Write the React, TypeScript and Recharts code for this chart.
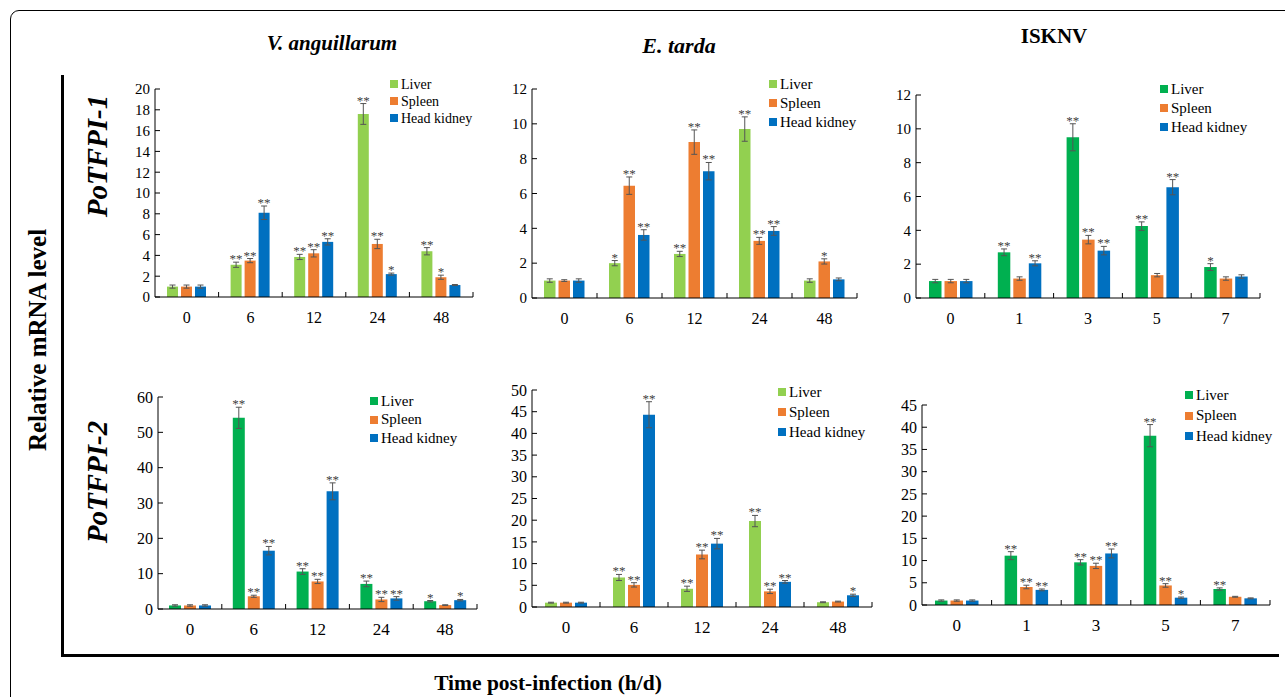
import React from "react";
import { BarChart, Bar, XAxis, YAxis, ErrorBar, LabelList } from "recharts";

const organs = ["Liver", "Spleen", "Head kidney"];
const hourCats = ["0", "6", "12", "24", "48"];
const dayCats = ["0", "1", "3", "5", "7"];

// PoTFPI-1, V. anguillarum
const va1Mean = [
  [1.0, 3.1, 3.85, 17.6, 4.4],
  [1.0, 3.5, 4.2, 5.1, 1.9],
  [1.0, 8.1, 5.3, 2.2, 1.15],
];
const va1Err = [
  [0.15, 0.25, 0.25, 1.0, 0.35],
  [0.15, 0.2, 0.35, 0.45, 0.2],
  [0.15, 0.65, 0.3, 0.1, 0.05],
];
const va1Sig = [
  ["", "**", "**", "**", "**"],
  ["", "**", "**", "**", "*"],
  ["", "**", "**", "*", ""],
];

// PoTFPI-1, E. tarda
const et1Mean = [
  [1.0, 2.0, 2.53, 9.7, 1.0],
  [1.0, 6.45, 8.95, 3.28, 2.1],
  [1.0, 3.62, 7.28, 3.85, 1.07],
];
const et1Err = [
  [0.1, 0.15, 0.15, 0.7, 0.1],
  [0.05, 0.5, 0.7, 0.2, 0.15],
  [0.1, 0.3, 0.5, 0.25, 0.08],
];
const et1Sig = [
  ["", "*", "**", "**", ""],
  ["", "**", "**", "**", "*"],
  ["", "**", "**", "**", ""],
];

// PoTFPI-1, ISKNV
const is1Mean = [
  [1.0, 2.7, 9.5, 4.25, 1.83],
  [1.0, 1.15, 3.45, 1.35, 1.15],
  [1.0, 2.05, 2.8, 6.55, 1.27],
];
const is1Err = [
  [0.1, 0.2, 0.8, 0.25, 0.2],
  [0.1, 0.1, 0.25, 0.1, 0.1],
  [0.1, 0.15, 0.25, 0.45, 0.1],
];
const is1Sig = [
  ["", "**", "**", "**", "*"],
  ["", "", "**", "", ""],
  ["", "**", "**", "**", ""],
];

// PoTFPI-2, V. anguillarum
const va2Mean = [
  [1.0, 54.1, 10.6, 7.1, 2.2],
  [1.0, 3.6, 7.8, 2.7, 1.1],
  [1.0, 16.5, 33.3, 3.0, 2.5],
];
const va2Err = [
  [0.2, 3, 0.8, 0.8, 0.2],
  [0.2, 0.3, 0.6, 0.6, 0.1],
  [0.2, 1.2, 2.4, 0.5, 0.2],
];
const va2Sig = [
  ["", "**", "**", "**", "*"],
  ["", "**", "**", "**", ""],
  ["", "**", "**", "**", "*"],
];

// PoTFPI-2, E. tarda
const et2Mean = [
  [1.0, 6.8, 4.2, 19.8, 1.1],
  [1.0, 5.1, 12.1, 3.6, 1.25],
  [1.0, 44.3, 14.6, 5.8, 2.7],
];
const et2Err = [
  [0.1, 0.7, 0.6, 1.3, 0.1],
  [0.1, 0.5, 1.0, 0.5, 0.1],
  [0.1, 3, 1.2, 0.3, 0.25],
];
const et2Sig = [
  ["", "**", "**", "**", ""],
  ["", "**", "**", "**", ""],
  ["", "**", "**", "**", "*"],
];

// PoTFPI-2, ISKNV
const is2Mean = [
  [1.0, 11.1, 9.6, 38.1, 3.6],
  [1.0, 4.05, 8.8, 4.4, 1.85],
  [1.0, 3.4, 11.6, 1.65, 1.5],
];
const is2Err = [
  [0.15, 0.9, 0.6, 2.5, 0.25],
  [0.15, 0.4, 0.6, 0.4, 0.1],
  [0.15, 0.2, 1.0, 0.15, 0.1],
];
const is2Sig = [
  ["", "**", "**", "**", "**"],
  ["", "**", "**", "**", ""],
  ["", "**", "**", "*", ""],
];

const LIGHT_GREEN = "#92D050";
const DARK_GREEN = "#00B050";
const ORANGE = "#ED7D31";
const BLUE = "#0070C0";
const FONT = "'Liberation Serif', 'Times New Roman', serif";

type PanelProps = {
  cats: string[];
  mean: number[][];
  err: number[][];
  sig: string[][];
  green: string;
  yMax: number;
  yStep: number;
  plot: { left: number; top: number; right: number; bottom: number };
  barSize: number;
  legend: { x: number; y: number; line: number; size: number };
  fontSize: number;
};

function Panel({ cats, mean, err, sig, green, yMax, yStep, plot, barSize, legend, fontSize }: PanelProps) {
  const colors = [green, ORANGE, BLUE];
  const data = cats.map((c, i) => ({
    cat: c,
    v0: mean[0][i],
    e0: err[0][i],
    v1: mean[1][i],
    e1: err[1][i],
    v2: mean[2][i],
    e2: err[2][i],
  }));
  const ticks: number[] = [];
  for (let t = 0; t <= yMax + 1e-9; t += yStep) ticks.push(t);

  const plotW = plot.right - plot.left;
  const plotH = plot.bottom - plot.top;
  const width = plotW + 80;
  const height = plotH + 60;

  // category labels at band centres, tick marks at band edges pointing inward
  const XTick = (p: any) => {
    const { x, y, payload } = p;
    const half = payload && payload.offset ? payload.offset : plotW / cats.length / 2;
    return (
      <g>
        <line x1={x + half} x2={x + half} y1={y - 5} y2={y} stroke="#000" />
        <text x={x} y={y + 26} textAnchor="middle" fontSize={fontSize + 1} fill="#000" fontFamily={FONT}>
          {payload.value}
        </text>
      </g>
    );
  };

  const starContent = (k: number) => (p: any) => {
    const { x, y, width: w, height: h, value, index } = p;
    const s = sig[k][index];
    if (!s) return null;
    const ppu = value ? h / value : 0;
    const top = y - err[k][index] * ppu;
    return (
      <text x={x + w / 2} y={top + 1} textAnchor="middle" fontSize={13} fill="#404040" fontFamily={FONT}>
        {s}
      </text>
    );
  };

  return (
    <>
      <div style={{ position: "absolute", left: plot.left - 60, top: plot.top - 20 }}>
        <BarChart
          width={width}
          height={height}
          data={data}
          margin={{ top: 20, right: 20, bottom: 10, left: 20 }}
          barGap={3}
          barSize={barSize}
        >
          <XAxis
            dataKey="cat"
            height={30}
            axisLine={{ stroke: "#000" }}
            tickLine={false}
            tickSize={0}
            tickMargin={0}
            tick={XTick}
            interval={0}
          />
          <YAxis
            width={40}
            domain={[0, yMax]}
            ticks={ticks}
            interval={0}
            axisLine={{ stroke: "#000" }}
            tickLine={{ stroke: "#000" }}
            tickSize={-5}
            tickMargin={10}
            tick={{ fontSize, fill: "#000", fontFamily: FONT }}
          />
          {[0, 1, 2].map((k) => (
            <Bar key={k} dataKey={`v${k}`} fill={colors[k]} isAnimationActive={false}>
              <ErrorBar dataKey={`e${k}`} width={3} stroke="#555" strokeWidth={1} direction="y" />
              <LabelList dataKey={`v${k}`} content={starContent(k)} />
            </Bar>
          ))}
        </BarChart>
      </div>
      <div
        style={{
          position: "absolute",
          left: legend.x,
          top: legend.y - legend.line / 2,
          fontFamily: FONT,
          fontSize: legend.size,
          lineHeight: `${legend.line}px`,
          color: "#000",
          whiteSpace: "nowrap",
        }}
      >
        {organs.map((o, k) => (
          <div key={o} style={{ display: "flex", alignItems: "center" }}>
            <span style={{ display: "inline-block", width: 8, height: 8, background: colors[k], marginRight: 3 }} />
            {o}
          </div>
        ))}
      </div>
    </>
  );
}

const titleStyle: React.CSSProperties = {
  position: "absolute",
  fontFamily: FONT,
  fontWeight: "bold",
  color: "#000",
  whiteSpace: "nowrap",
  transform: "translate(-50%, -50%)",
};

export default function App() {
  return (
    <div
      style={{
        position: "absolute",
        left: 0,
        top: 0,
        width: 1285,
        height: 697,
        overflow: "hidden",
        background: "#fff",
        fontFamily: FONT,
      }}
    >
      <div
        style={{
          position: "absolute",
          left: 10,
          top: 10,
          width: 1320,
          height: 720,
          border: "1px solid #000",
          borderRadius: 9,
        }}
      />
      <div style={{ position: "absolute", left: 61, top: 75, width: 3, height: 582, background: "#000" }} />
      <div style={{ position: "absolute", left: 61, top: 654, width: 1218, height: 3, background: "#000" }} />

      <div style={{ ...titleStyle, left: 332, top: 43, fontSize: 21, fontStyle: "italic" }}>V. anguillarum</div>
      <div style={{ ...titleStyle, left: 679, top: 46, fontSize: 22, fontStyle: "italic" }}>E. tarda</div>
      <div style={{ ...titleStyle, left: 1054, top: 36, fontSize: 21 }}>ISKNV</div>

      <div style={{ ...titleStyle, left: 38, top: 340, fontSize: 25, transform: "translate(-50%, -50%) rotate(-90deg)" }}>
        Relative mRNA level
      </div>
      <div
        style={{
          ...titleStyle,
          left: 97,
          top: 156,
          fontSize: 29,
          fontStyle: "italic",
          transform: "translate(-50%, -50%) rotate(-90deg)",
        }}
      >
        PoTFPI-1
      </div>
      <div
        style={{
          ...titleStyle,
          left: 97,
          top: 482,
          fontSize: 29,
          fontStyle: "italic",
          transform: "translate(-50%, -50%) rotate(-90deg)",
        }}
      >
        PoTFPI-2
      </div>
      <div style={{ ...titleStyle, left: 548, top: 683, fontSize: 21.5 }}>Time post-infection (h/d)</div>

      <Panel
        cats={hourCats}
        mean={va1Mean}
        err={va1Err}
        sig={va1Sig}
        green={LIGHT_GREEN}
        yMax={20}
        yStep={2}
        plot={{ left: 155, top: 89, right: 473, bottom: 297 }}
        barSize={11}
        legend={{ x: 390, y: 84, line: 17, size: 14 }}
        fontSize={15}
      />
      <Panel
        cats={hourCats}
        mean={et1Mean}
        err={et1Err}
        sig={et1Sig}
        green={LIGHT_GREEN}
        yMax={12}
        yStep={2}
        plot={{ left: 532, top: 89, right: 857, bottom: 298 }}
        barSize={11.5}
        legend={{ x: 769, y: 84, line: 19, size: 15 }}
        fontSize={15}
      />
      <Panel
        cats={dayCats}
        mean={is1Mean}
        err={is1Err}
        sig={is1Sig}
        green={DARK_GREEN}
        yMax={12}
        yStep={2}
        plot={{ left: 916, top: 95, right: 1260, bottom: 298 }}
        barSize={12.5}
        legend={{ x: 1160, y: 89, line: 19, size: 15 }}
        fontSize={15}
      />
      <Panel
        cats={hourCats}
        mean={va2Mean}
        err={va2Err}
        sig={va2Sig}
        green={DARK_GREEN}
        yMax={60}
        yStep={10}
        plot={{ left: 158, top: 397, right: 477, bottom: 609 }}
        barSize={12}
        legend={{ x: 370, y: 401, line: 18.5, size: 15 }}
        fontSize={16}
      />
      <Panel
        cats={hourCats}
        mean={et2Mean}
        err={et2Err}
        sig={et2Sig}
        green={LIGHT_GREEN}
        yMax={50}
        yStep={5}
        plot={{ left: 532, top: 390, right: 872, bottom: 607 }}
        barSize={12}
        legend={{ x: 778, y: 392, line: 20, size: 15 }}
        fontSize={16}
      />
      <Panel
        cats={dayCats}
        mean={is2Mean}
        err={is2Err}
        sig={is2Sig}
        green={DARK_GREEN}
        yMax={45}
        yStep={5}
        plot={{ left: 922, top: 405, right: 1270, bottom: 605 }}
        barSize={12.5}
        legend={{ x: 1185, y: 395, line: 20.5, size: 15 }}
        fontSize={16}
      />
    </div>
  );
}
